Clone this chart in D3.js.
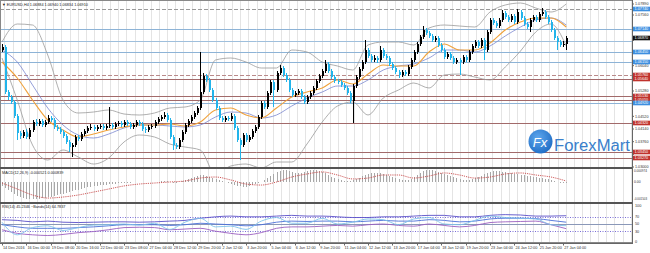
<!DOCTYPE html>
<html><head><meta charset="utf-8">
<script src="https://cdn.jsdelivr.net/npm/d3@7"></script>
<style>body{margin:0;background:#fff}svg{display:block}text{font-family:"Liberation Sans",Arial,sans-serif}</style>
</head><body><svg id="c" width="650" height="253"></svg>
<script>
// ---------- DATA ----------
const open=[1.0651,1.0660,1.0525,1.0510,1.0495,1.0453,1.0402,1.0393,1.0405,1.0390,
1.0411,1.0435,1.0429,1.0438,1.0426,1.0435,1.0447,1.0441,1.0420,1.0414,
1.0405,1.0393,1.0375,1.0360,1.0366,1.0390,1.0384,1.0399,1.0408,1.0417,
1.0420,1.0414,1.0420,1.0423,1.0417,1.0423,1.0426,1.0420,1.0429,1.0432,
1.0426,1.0435,1.0429,1.0420,1.0426,1.0435,1.0429,1.0414,1.0411,1.0420,
1.0423,1.0435,1.0444,1.0450,1.0456,1.0441,1.0390,1.0366,1.0360,1.0381,
1.0405,1.0426,1.0438,1.0450,1.0462,1.0477,1.0525,1.0573,1.0561,1.0531,
1.0501,1.0477,1.0447,1.0441,1.0447,1.0444,1.0453,1.0417,1.0381,1.0366,
1.0396,1.0381,1.0390,1.0408,1.0420,1.0450,1.0492,1.0480,1.0522,1.0555,
1.0531,1.0582,1.0597,1.0576,1.0561,1.0531,1.0516,1.0522,1.0528,1.0510,
1.0495,1.0510,1.0522,1.0537,1.0558,1.0573,1.0588,1.0609,1.0588,1.0570,
1.0558,1.0555,1.0546,1.0537,1.0522,1.0498,1.0543,1.0570,1.0594,1.0615,
1.0651,1.0633,1.0621,1.0627,1.0621,1.0651,1.0633,1.0627,1.0609,1.0597,
1.0585,1.0576,1.0585,1.0579,1.0600,1.0621,1.0645,1.0669,1.0690,1.0711,
1.0702,1.0693,1.0681,1.0687,1.0666,1.0651,1.0630,1.0639,1.0627,1.0615,
1.0621,1.0615,1.0630,1.0621,1.0645,1.0663,1.0675,1.0663,1.0681,1.0651,
1.0705,1.0741,1.0732,1.0723,1.0741,1.0762,1.0750,1.0741,1.0753,1.0735,
1.0765,1.0747,1.0729,1.0720,1.0741,1.0750,1.0741,1.0759,1.0765,1.0750,
1.0735,1.0711,1.0687,1.0675,1.0666,1.0669];
const high=[1.0669,1.0666,1.0531,1.0516,1.0501,1.0459,1.0408,1.0411,1.0414,1.0417,
1.0441,1.0444,1.0444,1.0444,1.0441,1.0456,1.0453,1.0447,1.0426,1.0420,
1.0411,1.0399,1.0381,1.0372,1.0396,1.0396,1.0405,1.0414,1.0423,1.0429,
1.0426,1.0426,1.0429,1.0429,1.0429,1.0480,1.0432,1.0435,1.0438,1.0438,
1.0441,1.0441,1.0435,1.0432,1.0441,1.0441,1.0435,1.0420,1.0426,1.0429,
1.0441,1.0450,1.0456,1.0465,1.0462,1.0447,1.0396,1.0372,1.0387,1.0411,
1.0432,1.0444,1.0456,1.0468,1.0483,1.0645,1.0582,1.0579,1.0567,1.0537,
1.0507,1.0483,1.0453,1.0453,1.0453,1.0462,1.0459,1.0423,1.0387,1.0402,
1.0402,1.0396,1.0414,1.0426,1.0456,1.0498,1.0498,1.0528,1.0561,1.0561,
1.0588,1.0606,1.0603,1.0582,1.0567,1.0537,1.0528,1.0534,1.0534,1.0516,
1.0516,1.0528,1.0543,1.0564,1.0579,1.0594,1.0621,1.0615,1.0594,1.0576,
1.0564,1.0561,1.0552,1.0543,1.0528,1.0549,1.0576,1.0600,1.0621,1.0681,
1.0657,1.0639,1.0636,1.0633,1.0663,1.0657,1.0639,1.0633,1.0615,1.0603,
1.0591,1.0591,1.0591,1.0606,1.0627,1.0651,1.0675,1.0696,1.0723,1.0717,
1.0708,1.0699,1.0693,1.0693,1.0672,1.0657,1.0645,1.0645,1.0633,1.0627,
1.0627,1.0636,1.0636,1.0651,1.0669,1.0681,1.0681,1.0687,1.0687,1.0711,
1.0747,1.0747,1.0738,1.0747,1.0771,1.0768,1.0756,1.0759,1.0759,1.0774,
1.0771,1.0753,1.0735,1.0747,1.0756,1.0756,1.0765,1.0777,1.0771,1.0756,
1.0741,1.0717,1.0693,1.0681,1.0678,1.0693];
const low=[1.0645,1.0519,1.0501,1.0489,1.0447,1.0381,1.0384,1.0387,1.0384,1.0384,
1.0405,1.0423,1.0423,1.0420,1.0420,1.0429,1.0435,1.0414,1.0408,1.0399,
1.0387,1.0369,1.0345,1.0330,1.0360,1.0378,1.0378,1.0393,1.0402,1.0411,
1.0408,1.0408,1.0414,1.0411,1.0411,1.0417,1.0414,1.0414,1.0423,1.0420,
1.0420,1.0423,1.0414,1.0414,1.0420,1.0423,1.0408,1.0402,1.0405,1.0414,
1.0417,1.0429,1.0438,1.0444,1.0435,1.0384,1.0351,1.0354,1.0354,1.0375,
1.0399,1.0420,1.0432,1.0444,1.0456,1.0471,1.0519,1.0555,1.0525,1.0495,
1.0471,1.0441,1.0435,1.0435,1.0438,1.0438,1.0411,1.0375,1.0321,1.0360,
1.0375,1.0375,1.0384,1.0402,1.0414,1.0444,1.0474,1.0474,1.0516,1.0480,
1.0525,1.0576,1.0570,1.0555,1.0525,1.0510,1.0510,1.0516,1.0504,1.0489,
1.0489,1.0504,1.0516,1.0531,1.0552,1.0567,1.0582,1.0582,1.0564,1.0552,
1.0549,1.0540,1.0531,1.0516,1.0492,1.0432,1.0537,1.0564,1.0588,1.0609,
1.0627,1.0615,1.0615,1.0612,1.0615,1.0627,1.0621,1.0603,1.0591,1.0579,
1.0567,1.0570,1.0573,1.0573,1.0594,1.0615,1.0639,1.0663,1.0684,1.0696,
1.0687,1.0675,1.0675,1.0660,1.0645,1.0624,1.0624,1.0621,1.0609,1.0609,
1.0576,1.0609,1.0615,1.0615,1.0639,1.0657,1.0657,1.0657,1.0621,1.0645,
1.0699,1.0726,1.0717,1.0717,1.0735,1.0744,1.0735,1.0735,1.0729,1.0729,
1.0741,1.0723,1.0714,1.0705,1.0735,1.0735,1.0735,1.0753,1.0744,1.0729,
1.0705,1.0681,1.0651,1.0660,1.0660,1.0651];
const close=[1.0660,1.0525,1.0510,1.0495,1.0453,1.0402,1.0393,1.0405,1.0390,1.0411,
1.0435,1.0429,1.0438,1.0426,1.0435,1.0447,1.0441,1.0420,1.0414,1.0405,
1.0393,1.0375,1.0360,1.0366,1.0390,1.0384,1.0399,1.0408,1.0417,1.0420,
1.0414,1.0420,1.0423,1.0417,1.0423,1.0426,1.0420,1.0429,1.0432,1.0426,
1.0435,1.0429,1.0420,1.0426,1.0435,1.0429,1.0414,1.0411,1.0420,1.0423,
1.0435,1.0444,1.0450,1.0456,1.0441,1.0390,1.0366,1.0360,1.0381,1.0405,
1.0426,1.0438,1.0450,1.0462,1.0477,1.0525,1.0573,1.0561,1.0531,1.0501,
1.0477,1.0447,1.0441,1.0447,1.0444,1.0453,1.0417,1.0381,1.0366,1.0396,
1.0381,1.0390,1.0408,1.0420,1.0450,1.0492,1.0480,1.0522,1.0555,1.0531,
1.0582,1.0597,1.0576,1.0561,1.0531,1.0516,1.0522,1.0528,1.0510,1.0495,
1.0510,1.0522,1.0537,1.0558,1.0573,1.0588,1.0609,1.0588,1.0570,1.0558,
1.0555,1.0546,1.0537,1.0522,1.0498,1.0543,1.0570,1.0594,1.0615,1.0651,
1.0633,1.0621,1.0627,1.0621,1.0651,1.0633,1.0627,1.0609,1.0597,1.0585,
1.0576,1.0585,1.0579,1.0600,1.0621,1.0645,1.0669,1.0690,1.0711,1.0702,
1.0693,1.0681,1.0687,1.0666,1.0651,1.0630,1.0639,1.0627,1.0615,1.0621,
1.0615,1.0630,1.0621,1.0645,1.0663,1.0675,1.0663,1.0681,1.0651,1.0705,
1.0741,1.0732,1.0723,1.0741,1.0762,1.0750,1.0741,1.0753,1.0735,1.0765,
1.0747,1.0729,1.0720,1.0741,1.0750,1.0741,1.0759,1.0765,1.0750,1.0735,
1.0711,1.0687,1.0675,1.0666,1.0669,1.0687];

// indicator samples (every 5th bar)
const sampleIdx=[0,5,10,15,20,25,30,35,40,45,50,55,60,65,70,75,80,85,90,95,100,105,110,115,120,125,130,135,140,145,150,155,160,165,170,175,180,185];
const maOrange=[1.0615,1.0567,1.0501,1.0441,1.0411,1.0390,1.0399,1.0411,1.0420,1.0426,1.0426,1.0429,1.0423,1.0435,1.0471,1.0477,1.0456,1.0447,1.0477,1.0510,1.0525,1.0537,1.0561,1.0549,1.0579,1.0606,1.0603,1.0603,1.0645,1.0669,1.0651,1.0651,1.0672,1.0711,1.0735,1.0747,1.0747,1.0720];
const bbMid=[1.0651,1.0615,1.0546,1.0477,1.0426,1.0396,1.0387,1.0399,1.0417,1.0426,1.0426,1.0423,1.0420,1.0426,1.0450,1.0465,1.0462,1.0447,1.0456,1.0483,1.0507,1.0525,1.0543,1.0543,1.0561,1.0591,1.0603,1.0609,1.0627,1.0651,1.0651,1.0645,1.0663,1.0693,1.0720,1.0741,1.0747,1.0726];
const bbUpper=[1.0675,1.0729,1.0726,1.0636,1.0501,1.0462,1.0465,1.0471,1.0459,1.0456,1.0462,1.0477,1.0480,1.0501,1.0621,1.0627,1.0615,1.0597,1.0597,1.0651,1.0645,1.0615,1.0603,1.0591,1.0666,1.0675,1.0675,1.0666,1.0717,1.0726,1.0723,1.0720,1.0765,1.0786,1.0792,1.0777,1.0765,1.0789];
const bbLower=[1.0627,1.0501,1.0366,1.0321,1.0351,1.0330,1.0309,1.0327,1.0375,1.0396,1.0390,1.0369,1.0360,1.0351,1.0279,1.0303,1.0309,1.0297,1.0315,1.0315,1.0369,1.0435,1.0483,1.0495,1.0456,1.0507,1.0531,1.0552,1.0537,1.0576,1.0579,1.0570,1.0561,1.0600,1.0648,1.0705,1.0729,1.0663];

const levelPrices=[1.0774,1.0714,1.0678,1.0645,1.0615,1.0576,1.0564,1.0513,1.0501,1.0492,1.0432,1.0345,1.0327];
const levelKinds=["dash","blue","blueNoTag","blue","blue","redDash","red","red","red","blue","red","red","red"];
const priceTicks=["1.07890","1.07560","1.07180","1.06800","1.06420","1.06040","1.05660","1.05280","1.04900","1.04520","1.04140","1.03760","1.03380","1.03000"];

const macdMain=[-0.00035,-0.00053,-0.00071,-0.00089,-0.00106,-0.00124,
-0.00133,-0.00142,-0.0015,-0.0015,-0.0015,-0.0015,-0.0015,
-0.00142,-0.00142,-0.00133,-0.00133,-0.00124,-0.00115,-0.00106,-0.00106,
-0.00097,-0.00089,-0.0008,-0.00071,-0.00071,-0.00062,-0.00053,-0.00044,-0.00044,-0.00035,
-0.00035,-0.00027,-0.00027,-0.00027,-0.00018,-0.00018,-0.00018,-0.00009,-0.00009,-0.00009,
-0.00009,-0.00009,0.00001,0.00001,0.00001,0.00001,0.00001,0.00001,0.00001,0.00001,
0.00001,0.00009,0.00009,0.00009,0.00001,-0.00009,-0.00009,0.00001,0.00009,0.00018,
0.00027,0.00035,0.00044,0.00053,0.00062,0.00062,0.00053,0.00044,0.00035,0.00027,
0.00018,0.00009,0.00001,-0.00009,-0.00018,-0.00027,-0.00035,-0.00035,-0.00044,-0.00044,
-0.00035,-0.00027,-0.00018,-0.00009,0.00001,0.00018,0.00035,0.00053,0.00071,0.00089,
0.00097,0.00106,0.00106,0.00097,0.00089,0.0008,0.0008,0.0008,0.00089,0.00097,
0.00106,0.00106,0.00106,0.00097,0.00089,0.0008,0.00062,0.00044,0.00035,0.00027,
0.00018,0.00009,0.00009,0.00009,0.00018,0.00027,0.00035,0.00053,0.00062,0.00071,
0.0008,0.0008,0.0008,0.0008,0.00071,0.00062,0.00053,0.00044,0.00035,0.00027,
0.00018,0.00018,0.00018,0.00027,0.00044,0.00062,0.0008,0.00097,0.00106,0.00106,
0.00106,0.00097,0.00089,0.0008,0.00071,0.00062,0.00053,0.00044,0.00035,0.00027,
0.00018,0.00018,0.00018,0.00027,0.00035,0.00044,0.00053,0.00071,0.0008,0.00089,
0.00097,0.00097,0.00097,0.00089,0.00089,0.0008,0.0008,0.00071,0.00071,0.00062,
0.00062,0.00053,0.00053,0.00044,0.00044,0.00035,0.00035,0.00027,0.00027,0.00018,
0.00009,0.00001,-0.00009,-0.00009,-0.00009];
const macdSignal=[-0.00009,-0.00062,-0.00115,-0.00142,-0.00133,-0.00115,-0.00089,-0.00062,-0.00035,-0.00018,-0.00009,0,0.00009,0.00035,0.00044,0.00018,-0.00018,-0.00027,0,0.00044,0.00071,0.00089,0.00062,0.00027,0.00035,0.00062,0.00062,0.00035,0.00053,0.0008,0.00062,0.00035,0.00044,0.00071,0.0008,0.00062,0.00044,0.00009];
const macdTicks=["0.000974","0.00","-0.001503"];

const rsi=[55,20,40,45,32,40,47,48,50,47,52,35,55,66,42,44,35,58,68,52,52,66,50,55,64,62,48,64,68,50,48,60,72,68,66,64,48,45.23];
const rsiUpper=[62,60,56,58,55,54,55,56,56,55,56,58,60,66,70,72,70,70,72,74,72,72,70,68,68,70,70,72,74,74,70,70,74,76,75,72,72,73];
const rsiMid=[48,42,38,38,38,40,42,45,48,48,48,46,48,52,50,48,45,48,55,58,57,58,58,56,58,60,58,58,62,60,56,58,64,66,66,65,60,55];
const rsiLower=[34,24,20,18,21,26,29,34,40,41,40,34,36,38,30,24,20,26,38,42,42,44,46,44,48,50,46,44,50,46,42,46,54,56,57,58,48,37];
const rsiTicks=[100,70,50,30,0];

const dateLabels=["14 Dec 2016","16 Dec 00:00","19 Dec 08:00","20 Dec 16:00","22 Dec 00:00","23 Dec 08:00","27 Dec 04:00","28 Dec 12:00","29 Dec 20:00","2 Jan 12:00","3 Jan 20:00","5 Jan 04:00","6 Jan 12:00","9 Jan 20:00","11 Jan 04:00","12 Jan 12:00","13 Jan 20:00","17 Jan 04:00","18 Jan 12:00","19 Jan 20:00","23 Jan 04:00","24 Jan 12:00","25 Jan 20:00","27 Jan 04:00"];
const titleText="EURUSD,H4  1.06884 1.06940 1.06834 1.06910";
const macdTitle="MACD(12,26,9) -0.000521 0.000839";
const rsiTitle="RSI(14) 45.2346   ~Bands(14) 64.7837";

// ---------- LAYOUT ----------
const W=650, AX=632;
const svg=d3.select("#c");
const x=d3.scaleLinear().domain([0,185]).range([2,566.25]);
const yP=d3.scaleLinear().domain([1.0300,1.0795]).range([167,2]);
const yM=d3.scaleLinear().domain([-0.00177,0.00115]).range([202,169]);
const yR=d3.scaleLinear().domain([0,100]).range([242,206]);
const FS=3.8;

svg.append("rect").attr("width",W).attr("height",253).attr("fill","#fff");
const defs=svg.append("defs");
function clip(id,y0,y1){defs.append("clipPath").attr("id",id).append("rect").attr("x",0).attr("y",y0).attr("width",AX).attr("height",y1-y0);}
clip("cMain",1,167);clip("cMacd",169,202);clip("cRsi",204,243);

// vertical grid (all panels)
const gridIdx=d3.range(0.8,240,8/3).filter(d=>x(d)<AX);
svg.append("g").selectAll("line").data(gridIdx).join("line")
 .attr("x1",d=>Math.round(x(d))+0.5).attr("x2",d=>Math.round(x(d))+0.5)
 .attr("y1",1).attr("y2",243).attr("stroke","#e4e4e4").attr("stroke-width",1);

// ---------- MAIN PANEL ----------
const gm=svg.append("g").attr("clip-path","url(#cMain)");
const lvColor={dash:"#9a9a9a",blue:"#8db3d6",blueNoTag:"#9fbfdc",redDash:"#b98a8a",red:"#a26a6a"};
gm.selectAll("line.lv").data(levelPrices).join("line").attr("class","lv")
 .attr("x1",0).attr("x2",AX).attr("y1",d=>Math.round(yP(d))+0.5).attr("y2",d=>Math.round(yP(d))+0.5)
 .attr("stroke",(d,i)=>lvColor[levelKinds[i]]).attr("stroke-width",1)
 .attr("stroke-dasharray",(d,i)=>levelKinds[i].toLowerCase().includes("dash")?"4,2":null);

const line=(arr,sc)=>d3.line().x((d,i)=>x(sampleIdx[i])).y(d=>sc(d)).curve(d3.curveMonotoneX)(arr);
gm.append("path").attr("d",line(bbUpper,yP)).attr("fill","none").attr("stroke","#9a9a9a").attr("stroke-width",0.8);
gm.append("path").attr("d",line(bbLower,yP)).attr("fill","none").attr("stroke","#9a9a9a").attr("stroke-width",0.8);
gm.append("path").attr("d",line(bbMid,yP)).attr("fill","none").attr("stroke","#7a86cf").attr("stroke-width",0.8);
gm.append("path").attr("d",line(maOrange,yP)).attr("fill","none").attr("stroke","#f0a23c").attr("stroke-width",1.1);

// candles
const bull="#000000", bear="#22b4ea";
const idx=d3.range(close.length);
const cg=gm.append("g").attr("shape-rendering","crispEdges");
cg.selectAll("line").data(idx).join("line")
 .attr("x1",i=>Math.round(x(i))+0.5).attr("x2",i=>Math.round(x(i))+0.5)
 .attr("y1",i=>yP(high[i])).attr("y2",i=>yP(low[i]))
 .attr("stroke",i=>close[i]>=open[i]?bull:bear).attr("stroke-width",1);
cg.selectAll("rect").data(idx).join("rect")
 .attr("x",i=>Math.round(x(i))-0.5).attr("width",2)
 .attr("y",i=>Math.min(yP(open[i]),yP(close[i])))
 .attr("height",i=>Math.max(1,Math.abs(yP(open[i])-yP(close[i]))))
 .attr("fill",i=>close[i]>=open[i]?bull:bear);

// logo
const lg=svg.append("g");
const grad=defs.append("radialGradient").attr("id","lgGrad").attr("cx","40%").attr("cy","35%").attr("r","70%");
grad.append("stop").attr("offset","0%").attr("stop-color","#5fa8ee");
grad.append("stop").attr("offset","100%").attr("stop-color","#1f6cc4");
lg.append("circle").attr("cx",540.5).attr("cy",141.5).attr("r",12).attr("fill","url(#lgGrad)");
lg.append("text").attr("x",540).attr("y",146.5).attr("text-anchor","middle").attr("fill","#fff")
 .attr("font-size",13).attr("font-style","italic").text("Fx");
lg.append("text").attr("x",554).attr("y",151).attr("fill","#3a7fcb").attr("font-size",16)
 .attr("textLength",76).attr("lengthAdjust","spacingAndGlyphs").text("ForexMart");

// title
svg.append("text").attr("x",2).attr("y",5.5).attr("font-size",FS).attr("fill","#222").text("▼ "+titleText);

// ---------- MACD ----------
const gmacd=svg.append("g").attr("clip-path","url(#cMacd)");
gmacd.append("g").attr("shape-rendering","crispEdges").selectAll("line").data(idx).join("line")
 .attr("x1",i=>Math.round(x(i))+0.5).attr("x2",i=>Math.round(x(i))+0.5)
 .attr("y1",yM(0)).attr("y2",i=>yM(macdMain[i])).attr("stroke","#a8a8a8").attr("stroke-width",1);
gmacd.append("path").attr("d",line(macdSignal,yM)).attr("fill","none").attr("stroke","#c84848")
 .attr("stroke-width",0.9).attr("stroke-dasharray","1.2,1");
svg.append("text").attr("x",2).attr("y",173.5).attr("font-size",FS).attr("fill","#222").text(macdTitle);

// ---------- RSI ----------
const grsi=svg.append("g").attr("clip-path","url(#cRsi)");
[[70,"#7b6fd6","1,1.5"],[30,"#7b6fd6","1,1.5"],[50,"#8a98b8",null]].forEach(([v,c,da])=>{
 grsi.append("line").attr("x1",0).attr("x2",AX).attr("y1",Math.round(yR(v))+0.5).attr("y2",Math.round(yR(v))+0.5)
  .attr("stroke",c).attr("stroke-width",1).attr("stroke-dasharray",da);
});
grsi.append("path").attr("d",line(rsiUpper,yR)).attr("fill","none").attr("stroke","#5a4fc8").attr("stroke-width",0.9);
grsi.append("path").attr("d",line(rsiMid,yR)).attr("fill","none").attr("stroke","#4b6fd8").attr("stroke-width",0.9);
grsi.append("path").attr("d",line(rsiLower,yR)).attr("fill","none").attr("stroke","#9b5fc0").attr("stroke-width",0.9);
grsi.append("path").attr("d",line(rsi,yR)).attr("fill","none").attr("stroke","#7fc3ea").attr("stroke-width",0.9);
svg.append("text").attr("x",2).attr("y",208).attr("font-size",FS).attr("fill","#222").text(rsiTitle);

// ---------- FRAMES ----------
const fr=svg.append("g").attr("shape-rendering","crispEdges");
fr.append("rect").attr("x",0.5).attr("y",0.5).attr("width",AX).attr("height",242).attr("fill","none").attr("stroke","#888");
fr.append("line").attr("x1",0).attr("x2",AX).attr("y1",168).attr("y2",168).attr("stroke","#555").attr("stroke-width",2);
fr.append("line").attr("x1",0).attr("x2",AX).attr("y1",203).attr("y2",203).attr("stroke","#555").attr("stroke-width",2);
fr.append("line").attr("x1",AX+0.5).attr("x2",AX+0.5).attr("y1",0).attr("y2",244).attr("stroke","#666");
fr.append("line").attr("x1",0).attr("x2",AX+1).attr("y1",243.5).attr("y2",243.5).attr("stroke","#666");

// ---------- AXES ----------
const ax=svg.append("g");
const fit=(sel,maxW)=>sel.each(function(){const n=this;if(n.getComputedTextLength()>maxW){d3.select(n).attr("textLength",maxW).attr("lengthAdjust","spacingAndGlyphs");}});
const tagCol={dash:"#3d8fe0",blue:"#3d8fe0",redDash:"#c0322c",red:"#c0322c"};
const last=close[close.length-1];
const tags=levelPrices.map((p,i)=>({p,k:levelKinds[i]})).filter(d=>tagCol[d.k]);
const tagYs=tags.map(d=>yP(d.p)).concat([yP(last)]);
const visTicks=priceTicks.filter(d=>tagYs.every(t=>Math.abs(t-yP(+d))>3.6));
ax.selectAll("text.pt").data(visTicks).join("text").attr("class","pt")
 .attr("x",AX+3).attr("y",d=>yP(+d)+1.4).attr("font-size",FS).attr("fill","#333").text(d=>d).call(fit,13.5);
ax.selectAll("line.pt").data(priceTicks).join("line").attr("class","pt")
 .attr("x1",AX).attr("x2",AX+2).attr("y1",d=>yP(+d)).attr("y2",d=>yP(+d)).attr("stroke","#666");
const tg=ax.selectAll("g.tag").data(tags).join("g").attr("class","tag");
tg.append("rect").attr("x",AX+1).attr("y",d=>yP(d.p)-2.3).attr("width",W-AX-1).attr("height",4.6).attr("fill",d=>tagCol[d.k]);
tg.append("text").attr("x",AX+2.5).attr("y",d=>yP(d.p)+1.4).attr("font-size",FS).attr("fill","#fff").text(d=>d.p.toFixed(5)).call(fit,14);
ax.append("rect").attr("x",AX+1).attr("y",yP(last)-2.3).attr("width",W-AX-1).attr("height",4.6).attr("fill","#111");
ax.append("text").attr("x",AX+2.5).attr("y",yP(last)+1.4).attr("font-size",FS).attr("fill","#fff").text(last.toFixed(5)).call(fit,14);

ax.selectAll("text.mt").data(macdTicks).join("text").attr("class","mt")
 .attr("x",AX+2).attr("y",d=>yM(+d)+1.4).attr("font-size",3.4).attr("fill","#333").text(d=>d).call(fit,13);
ax.selectAll("text.rt").data(rsiTicks).join("text").attr("class","rt")
 .attr("x",AX+3).attr("y",d=>yR(d)+1.4).attr("font-size",FS).attr("fill","#333").text(d=>d);

ax.selectAll("text.dt").data(dateLabels).join("text").attr("class","dt")
 .attr("x",(d,i)=>x(i*8)+1).attr("y",249).attr("font-size",FS).attr("fill","#333").text(d=>d);
ax.selectAll("line.dt").data(dateLabels).join("line").attr("class","dt")
 .attr("x1",(d,i)=>Math.round(x(i*8))+0.5).attr("x2",(d,i)=>Math.round(x(i*8))+0.5)
 .attr("y1",243).attr("y2",245.5).attr("stroke","#666");
</script></body></html>
